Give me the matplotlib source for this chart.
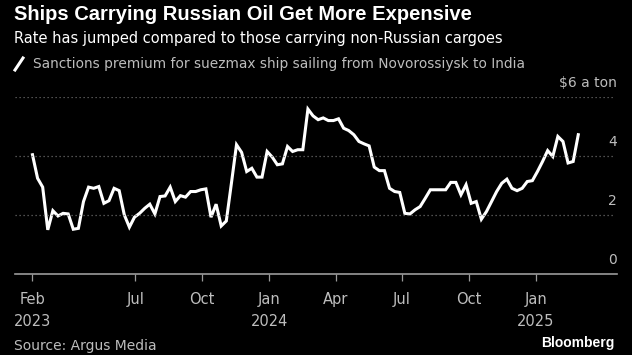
import numpy as np
import matplotlib
matplotlib.use('Agg')
from matplotlib import pyplot as plt
import matplotlib.dates as mdates
from matplotlib.lines import Line2D
from datetime import datetime as dt

# weekly sanctions premium, $ a ton
start = np.datetime64('2023-02-10')
premium = [4.05, 3.25, 2.95, 1.50, 2.15, 1.97, 2.06, 2.04, 1.52, 1.55,
           2.46, 2.95, 2.91, 2.97, 2.40, 2.49, 2.91, 2.83, 2.01, 1.59,
           1.93, 2.06, 2.23, 2.37, 2.04, 2.63, 2.65, 2.95, 2.46, 2.66,
           2.61, 2.80, 2.80, 2.86, 2.89, 1.93, 2.37, 1.63, 1.80, 3.08,
           4.39, 4.13, 3.48, 3.59, 3.29, 3.29, 4.16, 3.97, 3.71, 3.74,
           4.33, 4.16, 4.22, 4.22, 5.60, 5.37, 5.24, 5.30, 5.21, 5.21,
           5.27, 4.95, 4.87, 4.73, 4.50, 4.42, 4.35, 3.63, 3.51, 3.51,
           2.91, 2.80, 2.77, 2.06, 2.04, 2.18, 2.29, 2.57, 2.86, 2.86,
           2.86, 2.86, 3.11, 3.11, 2.69, 3.03, 2.40, 2.46, 1.86, 2.12,
           2.46, 2.80, 3.08, 3.22, 2.91, 2.83, 2.91, 3.14, 3.17, 3.48,
           3.82, 4.19, 3.99, 4.67, 4.50, 3.77, 3.82, 4.73]
dates = (start + np.arange(len(premium)) * np.timedelta64(7, 'D')).astype('datetime64[D]').astype(object)

tick_dates = [dt(2023, 2, 10), dt(2023, 7, 1), dt(2023, 10, 1), dt(2024, 1, 1),
              dt(2024, 4, 1), dt(2024, 7, 1), dt(2024, 10, 1), dt(2025, 1, 1)]
tick_labels = ['Feb\n2023', 'Jul', 'Oct', 'Jan\n2024', 'Apr', 'Jul', 'Oct', 'Jan\n2025']
y_ticks = [0, 2, 4, 6]
y_labels = ['0', '2', '4', '$6 a ton']

body = ['DejaVu Sans']
grey = '#bdbdbd'

fig = plt.figure(figsize=(6.32, 3.55), dpi=100, facecolor='black')
ax = fig.add_axes([15/632, 1 - 274/355, 602/632, (274 - 97.3)/355])
ax.set_facecolor('black')
ax.plot(dates, premium, color='white', lw=2.2, solid_joinstyle='miter', clip_on=False)

# x range in pixels 15..617
x0 = mdates.date2num(dt(2024, 1, 1)) - (269.3 - 15) / 0.7287
x1 = mdates.date2num(dt(2024, 1, 1)) + (617 - 269.3) / 0.7287
ax.set_xlim(x0, x1)
ax.set_ylim(0, 6)

for v in y_ticks[1:]:
    ax.axhline(v, color='#6a6a6a', lw=0.9, ls=(0, (1, 2.2)), xmax=600/602)
for v, lab in zip(y_ticks, y_labels):
    ax.annotate(lab, xy=(1, v), xycoords=('axes fraction', 'data'), xytext=(0, 5),
                textcoords='offset points', ha='right', va='bottom', color=grey,
                fontsize=10, family=body)

ax.set_yticks([])
ax.set_xticks([mdates.date2num(d) for d in tick_dates])
ax.set_xticklabels(tick_labels, family=body, fontsize=10.5, color=grey, linespacing=1.55)
ax.tick_params(axis='x', length=5, width=0.9, color='#9a9a9a', pad=8)
for s in ['top', 'right', 'left']:
    ax.spines[s].set_visible(False)
ax.spines['bottom'].set_color('#9a9a9a')
ax.spines['bottom'].set_linewidth(1.2)

fig.text(14/632, 1 - 15/355, 'Ships Carrying Russian Oil Get More Expensive', color='white',
         fontsize=14.5, fontweight='bold', family=['Liberation Sans', 'DejaVu Sans'], va='center')
fig.text(14/632, 1 - 39/355, 'Rate has jumped compared to those carrying non-Russian cargoes',
         color='white', fontsize=10.5, family=body, va='center')
fig.add_artist(Line2D([15/632, 23/632], [1 - 70/355, 1 - 58/355], color='white', lw=2.2))
fig.text(33/632, 1 - 64/355, 'Sanctions premium for suezmax ship sailing from Novorossiysk to India',
         color=grey, fontsize=9.9, family=body, va='center')
fig.text(14/632, 1 - 346/355, 'Source: Argus Media', color=grey, fontsize=10,
         family=body, va='center')
fig.text(615/632, 1 - 343/355, 'Bloomberg', color='white', fontsize=10,
         fontweight='bold', family=['Liberation Sans', 'DejaVu Sans'], ha='right', va='center')

fig.savefig('out.png', dpi=100, facecolor='black')
